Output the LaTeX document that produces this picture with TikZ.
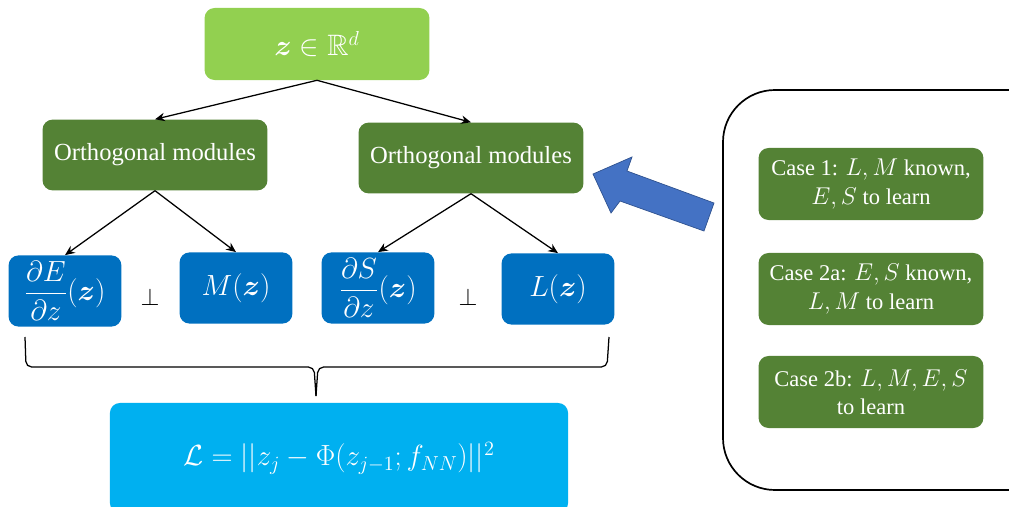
\documentclass[tikz,border=0pt]{standalone}
\usepackage{amsmath,amssymb,bm}
\usepackage{fontspec}
\setmainfont{Liberation Serif}
\usetikzlibrary{arrows.meta}

\definecolor{topgreen}{HTML}{92D050}
\definecolor{modgreen}{HTML}{548235}
\definecolor{vecblue}{HTML}{0070C0}
\definecolor{lossblue}{HTML}{00B0F0}
\definecolor{bigarrow}{HTML}{4472C4}
\definecolor{bigarrowedge}{HTML}{2F528F}

\begin{document}
\begin{tikzpicture}[x=0.025cm, y=-0.025cm,
    box/.style={rounded corners=0.25cm, text=white, align=center, inner sep=0pt,
      font=\fontsize{17.5}{21}\selectfont},
    topbox/.style={box, fill=topgreen, minimum width=5.62cm, minimum height=1.8cm,
      font=\fontsize{21}{24}\selectfont},
    modbox/.style={box, fill=modgreen, minimum width=5.62cm, minimum height=1.77cm},
    vecbox/.style={box, fill=vecblue, minimum width=2.82cm, minimum height=1.78cm,
      font=\fontsize{20}{24}\selectfont},
    casebox/.style={box, fill=modgreen, minimum width=5.62cm, minimum height=1.8cm,
      font=\fontsize{16}{20}\selectfont},
    arr/.style={-{Stealth[length=7pt,width=6pt]}, line width=0.9pt}]
      \useasboundingbox (0,0) rectangle (1009,507);
      \clip (0,0) rectangle (1009,507);
      % top
      \node[topbox] (zin) at (317,44) {$\bm{z}\in\mathbb{R}^d$};
      \node[modbox] (modL) at (155,155) {Orthogonal modules};
      \node[modbox] (modR) at (471,158) {Orthogonal modules};
      \draw[arr] (zin.south) -- (modL.north);
      \draw[arr] (zin.south) -- (modR.north);
      % vector fields
      \node[vecbox] (dE) at (65,291) {$\dfrac{\partial E}{\partial z}(\bm{z})$};
      \node[vecbox] (M) at (236,288) {$M(\bm{z})$};
      \node[vecbox] (dS) at (378,288) {$\dfrac{\partial S}{\partial z}(\bm{z})$};
      \node[vecbox] (L) at (558,289) {$L(\bm{z})$};
      \node[font=\fontsize{17}{20}\selectfont] (perpL) at (150,297) {$\perp$};
      \node[font=\fontsize{17}{20}\selectfont] (perpR) at (468,297) {$\perp$};
      \draw[arr] (modL.south) -- (dE.north);
      \draw[arr] (modL.south) -- (M.north);
      \draw[arr] (modR.south) -- (dS.north);
      \draw[arr] (modR.south) -- (L.north);
      % brace
      \draw[line width=0.9pt, rounded corners=4pt] (25,337) -- (26,367) -- (314,367) -- (316,396);
      \draw[line width=0.9pt, rounded corners=4pt] (316,396) -- (318,367) -- (607,367) -- (609,337);
      % loss
      \node[box, fill=lossblue, minimum width=11.45cm, minimum height=2.75cm,
        font=\fontsize{22}{26}\selectfont] (loss) at (339,458)
        {$\mathcal{L}=||z_j-\Phi(z_{j-1};f_{NN})||^2$};
      % cases
      \draw[line width=1.2pt, rounded corners=1.3cm] (723,90) rectangle (1060,490);
      \node[casebox] (case1) at (871,184) {Case 1: $L,M$ known,\\ $E,S$ to learn};
      \node[casebox] (case2a) at (871,289) {Case 2a: $E,S$ known,\\ $L,M$ to learn};
      \node[casebox] (case2b) at (871,392) {Case 2b: $L,M,E,S$\\ to learn};
      % block arrow
      \draw[fill=bigarrow, draw=bigarrowedge, line width=0.5pt]
        (593,174) -- (632,157) -- (627,171) -- (714,203) -- (704,231) -- (620,201) -- (611,213) -- cycle;
    \end{tikzpicture}
\end{document}
